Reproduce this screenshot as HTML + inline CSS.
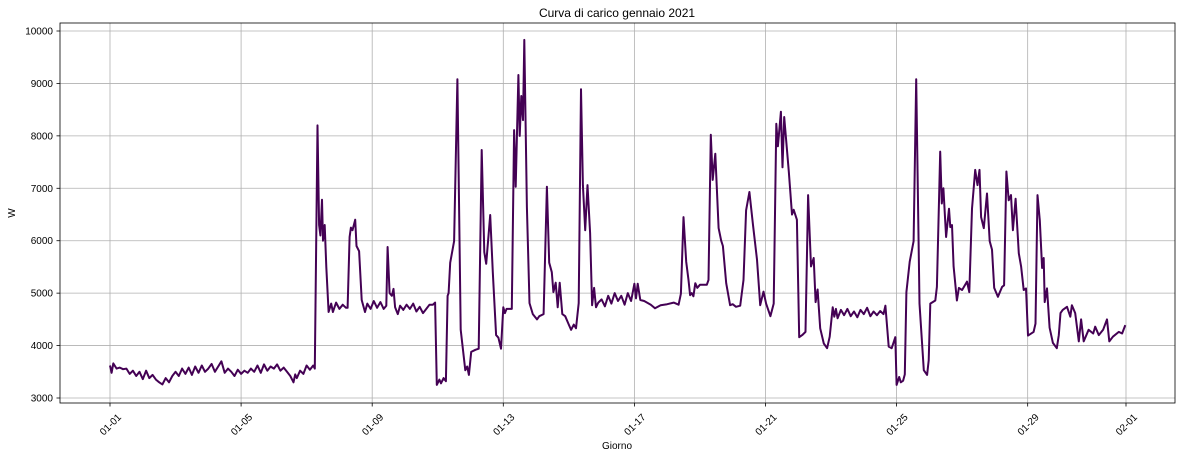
<!DOCTYPE html>
<html><head><meta charset="utf-8"><style>
body{margin:0;background:#fff;font-family:"Liberation Sans",sans-serif;}
svg text{font-family:"Liberation Sans",sans-serif;fill:#000;}
</style></head><body>
<svg id="chart" width="1182" height="459" viewBox="0 0 1182 459" xmlns="http://www.w3.org/2000/svg">
<rect x="0" y="0" width="1182" height="459" fill="#fff"/>
<text x="617" y="17" font-size="12" text-anchor="middle">Curva di carico gennaio 2021</text>
<text x="15" y="213" font-size="10" text-anchor="middle" transform="rotate(-90 15 213)">W</text>
<text x="617" y="449" font-size="10" text-anchor="middle">Giorno</text>
<g id="grid"></g>
<g id="series"></g>
<rect x="60" y="23" width="1115" height="380" fill="none" stroke="#000" stroke-width="0.8"/>
<g id="ticks"></g>
</svg>
<script>
const days = [0,0.05,0.1,0.2,0.3,0.4,0.5,0.6,0.7,0.8,0.9,1.0,1.1,1.2,1.3,1.4,1.5,1.6,1.7,1.8,1.9,2.0,2.1,2.2,2.3,2.4,2.5,2.6,2.7,2.8,2.9,3.0,3.1,3.2,3.3,3.4,3.5,3.6,3.7,3.8,3.9,4.0,4.1,4.2,4.3,4.4,4.5,4.6,4.7,4.8,4.9,5.0,5.1,5.2,5.3,5.4,5.5,5.6,5.65,5.7,5.8,5.9,6.0,6.1,6.2,6.25,
6.33,6.38,6.42,6.47,6.5,6.55,6.6,6.67,6.75,6.8,6.9,7.0,7.1,7.2,7.25,7.31,7.35,7.4,7.48,7.52,7.6,7.68,7.78,7.85,7.95,8.05,8.15,8.25,8.35,8.43,8.47,8.53,8.6,8.65,8.7,8.78,8.85,8.95,9.05,9.15,9.25,9.35,9.45,9.55,9.65,9.75,9.85,9.92,9.97,10.05,10.1,10.18,10.25,10.3,10.33,10.38,10.5,10.6,10.7,10.84,10.9,10.95,11.02,11.15,11.25,11.34,11.42,11.48,11.6,11.68,11.78,11.85,11.93,12.0,12.05,12.1,12.26,12.33,12.38,12.46,12.5,12.55,12.6,12.64,12.72,12.8,12.9,13.03,13.1,13.23,13.33,13.4,13.48,13.53,13.6,13.66,13.72,13.8,13.89,14.0,14.07,14.15,14.22,14.3,14.37,14.43,14.5,14.57,14.65,14.71,14.77,14.83,14.9,15.0,15.1,15.2,15.3,15.4,15.5,15.6,15.7,15.8,15.9,16.0,16.05,16.1,16.18,16.3,16.5,16.63,16.8,17.0,17.2,17.35,17.42,17.5,17.58,17.65,17.7,17.75,17.8,17.86,17.92,18.0,18.1,18.21,18.26,18.33,18.39,18.47,18.57,18.65,18.7,18.8,18.92,19.0,19.1,19.23,19.33,19.41,19.51,19.62,19.74,19.84,19.94,20.02,20.15,20.25,20.33,20.38,20.47,20.52,20.57,20.71,20.81,20.86,20.96,21.03,21.12,21.22,21.3,21.39,21.47,21.53,21.59,21.67,21.78,21.88,21.96,22.05,22.1,22.15,22.2,22.3,22.4,22.5,22.6,22.7,22.8,22.9,23.0,23.1,23.2,23.3,23.4,23.5,23.6,23.66,23.76,23.85,23.96,24.0,24.08,24.13,24.2,24.25,
24.3,24.4,24.52,24.6,24.7,24.83,24.93,24.98,25.03,25.18,25.23,25.33,25.38,25.43,25.51,25.6,25.64,25.69,25.74,25.84,25.9,26.0,26.15,26.22,26.3,26.4,26.47,26.53,26.58,26.66,26.76,26.84,26.91,26.98,27.09,27.22,27.28,27.35,27.42,27.49,27.55,27.63,27.73,27.8,27.88,27.95,28.01,28.18,28.24,28.3,28.37,28.44,28.49,28.52,28.59,28.67,28.77,28.89,28.95,29.0,29.07,29.2,29.3,29.35,29.45,29.56,29.63,29.71,29.86,30.0,30.06,30.17,30.3,30.42,30.49,30.6,30.78,30.88,30.98];
const watts = [3620,3480,3660,3560,3580,3550,3560,3460,3520,3420,3500,3360,3520,3380,3440,3350,3300,3260,3380,3300,3420,3500,3420,3560,3460,3580,3440,3600,3480,3620,3500,3560,3650,3500,3600,3700,3480,3560,3500,3420,3540,3460,3520,3480,3560,3500,3620,3480,3640,3520,3600,3560,3640,3520,3580,3500,3420,3300,3450,3380,3520,3460,3620,3540,3620,3560,
8200,6300,6100,6780,6000,6300,5500,4640,4800,4640,4820,4700,4780,4720,4720,6070,6250,6200,6400,5900,5800,4870,4640,4800,4700,4850,4720,4830,4700,4760,5880,5000,4950,5080,4730,4600,4760,4680,4780,4700,4800,4650,4740,4620,4700,4780,4780,4820,3250,3350,3280,3380,3320,4950,5000,5580,5990,9080,4300,3530,3600,3440,3880,3920,3940,7730,5780,5560,6490,5400,4200,4150,3940,4730,4620,4700,4700,8110,7030,9160,8000,8760,8300,9830,6640,4810,4600,4500,4560,4600,7030,5580,5400,5020,5200,4730,5200,4600,4560,4400,4300,4400,4330,4810,8890,7060,6200,7060,6150,4770,5100,4730,4820,4880,4750,4950,4800,5000,4850,4950,4780,5000,4850,5180,4900,5180,4870,4850,4780,4710,4770,4790,4820,4780,4990,6450,5600,5250,4960,5000,4940,5190,5100,5160,5160,5160,5250,8020,7160,7660,6240,6000,5900,5190,4770,4790,4740,4760,5250,6580,6930,6300,5640,4770,5030,4800,4560,4800,8230,7800,8460,7400,8360,7320,6500,6590,6400,4160,4200,4260,6870,5510,5670,4830,5070,4330,4040,3950,4170,4730,4550,4700,4520,4680,4580,4700,4560,4650,4540,4680,4600,4720,4560,4650,4580,4660,4600,4760,3980,3950,4160,3250,3400,3300,3330,3450,
5020,5600,5990,9080,4800,3530,3440,3720,4800,4860,5120,7700,6710,7000,6070,6610,6260,6300,5510,4860,5100,5060,5220,5020,6610,7350,7060,7350,6450,6240,6900,5990,5830,5100,4930,5120,5150,7320,6770,6870,6200,6800,5760,5510,5060,5090,4190,4260,4420,6870,6390,5480,5670,4830,5090,4340,4050,3950,4200,4620,4680,4740,4550,4770,4620,4080,4500,4080,4300,4230,4360,4200,4300,4500,4080,4170,4260,4230,4390];
const yTicks = [3000,4000,5000,6000,7000,8000,9000,10000];
const xTickDays = [0,4,8,12,16,20,24,28,31];
const xTickLabels = ['01-01','01-05','01-09','01-13','01-17','01-21','01-25','01-29','02-01'];

const NS='http://www.w3.org/2000/svg';
function xScale(d){return 110 + d*(1126-110)/31;}
function yScale(v){return 398 - (v-3000)*(398-31)/7000;}
const grid=document.getElementById('grid'), ticks=document.getElementById('ticks'), series=document.getElementById('series');
function mk(tag,attrs,parent){const e=document.createElementNS(NS,tag);for(const k in attrs)e.setAttribute(k,attrs[k]);parent.appendChild(e);return e;}
yTicks.forEach(v=>{
  const y=yScale(v);
  const g=mk('line',{x1:60,x2:1175,y1:y,y2:y,stroke:'#b0b0b0','stroke-width':0.8},grid);
  
  
  mk('line',{x1:56.5,x2:60,y1:y,y2:y,stroke:'#000','stroke-width':0.8},ticks);
  const t=mk('text',{x:53,y:y+3.5,'font-size':10,'text-anchor':'end'},ticks);
  
  
  t.textContent=v;
});
xTickDays.forEach((d,i)=>{
  const x=xScale(d);
  const g=mk('line',{x1:x,x2:x,y1:23,y2:403,stroke:'#b0b0b0','stroke-width':0.8},grid);
  
  
  mk('line',{x1:x,x2:x,y1:403,y2:406.5,stroke:'#000','stroke-width':0.8},ticks);
  const t=mk('text',{x:x,y:428,'font-size':10,'text-anchor':'middle',transform:'rotate(-45 '+x+' 424)'},ticks);
  
  
  t.textContent=xTickLabels[i];
});
const pts=days.map((d,i)=>xScale(d).toFixed(1)+','+yScale(watts[i]).toFixed(1)).join(' ');
const line=mk('polyline',{points:pts,fill:'none',stroke:'#440154','stroke-width':2,'stroke-linejoin':'round'},series);


</script>
</body></html>
